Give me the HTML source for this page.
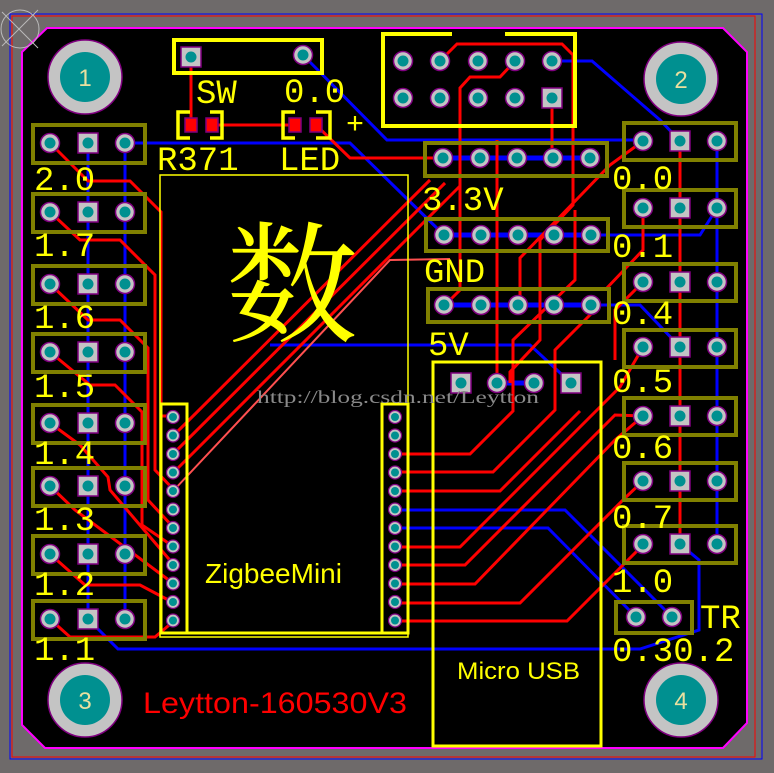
<!DOCTYPE html>
<html><head><meta charset="utf-8"><style>
html,body{margin:0;padding:0;background:#6e6a6a;}
svg{display:block;}
.m{font-family:"Liberation Mono",monospace;fill:#ffff00;font-size:34px;}
.s{font-family:"Liberation Sans",sans-serif;}
</style></head><body>
<svg width="774" height="773" viewBox="0 0 774 773" xmlns="http://www.w3.org/2000/svg">
<defs>
<g id="p"><circle r="9.5" fill="#c4c4c4" stroke="#800080" stroke-width="1.5"/><circle r="5.5" fill="#009090"/></g>
<g id="q"><rect x="-10" y="-10" width="20" height="20" fill="#c4c4c4" stroke="#800080" stroke-width="1.5"/><circle r="5.5" fill="#009090"/></g>
<g id="sp"><circle r="6.5" fill="#c4c4c4" stroke="#800080" stroke-width="1.2"/><circle r="4" fill="#009090"/></g>
<g id="h"><circle r="37" fill="#c4c4c4" stroke="#800080" stroke-width="1.5"/><circle r="25" fill="#009090"/></g>
</defs>
<rect width="774" height="773" fill="#6e6a6a"/>
<rect x="10" y="14" width="752" height="745" fill="none" stroke="#0000ff" stroke-width="1"/>
<rect x="12" y="16" width="743" height="741" fill="none" stroke="#ff0000" stroke-width="1"/>
<polygon points="47,28 723,28 747,52 747,723 723,748 45,748 22,725 22,52" fill="#000" stroke="#ff00ff" stroke-width="2"/>
<circle cx="20" cy="29" r="19" fill="none" stroke="#bbb" stroke-width="1"/>
<line x1="2" y1="12" x2="38" y2="48" stroke="#bbb"/><line x1="38" y1="10" x2="2" y2="46" stroke="#bbb"/>

<use href="#h" x="85" y="77"/><use href="#h" x="681" y="79"/><use href="#h" x="85" y="700"/><use href="#h" x="681" y="700"/>
<g class="s" fill="#e8e0a0" font-size="24" text-anchor="middle">
<text x="85" y="86">1</text><text x="681" y="88">2</text><text x="85" y="709">3</text><text x="681" y="709">4</text></g>

<g stroke="#0000ff" stroke-width="3" fill="none">
<line x1="88" y1="143" x2="88" y2="619"/>
<line x1="125" y1="143" x2="125" y2="619"/>
<polyline points="125,143 350,143 444,235"/>
<polyline points="303,55 387,140 643,140"/>
<polyline points="551,61 592,61 660,120 680,141"/>
<polyline points="717,141 717,544"/>
<polyline points="717,208 700,235 591,235"/>
<polyline points="591,305 640,305 680,347"/>
<polyline points="270,345 530,345 571,383"/>
<polyline points="88,619 118,649 640,649 699,630 699,560 680,544"/>
<polyline points="395,510 565,510 672,617"/>
<polyline points="395,528 548,528 636,617"/>
<line x1="443" y1="158" x2="590" y2="158" stroke-width="5"/>
<line x1="444" y1="235" x2="591" y2="235" stroke-width="5"/>
<line x1="444" y1="305" x2="591" y2="305" stroke-width="5"/>
<line x1="497" y1="383" x2="534" y2="383" stroke-width="5"/>
<line x1="160" y1="416" x2="174" y2="416"/>
</g>

<g stroke="#ff0000" stroke-width="3" fill="none">
<line x1="191" y1="57" x2="191" y2="125"/>
<line x1="212" y1="125" x2="295" y2="125"/>
<polyline points="316,125 350,158 443,158"/>
<polyline points="440,61 457,44 562,44 573,55 573,205 540,240 540,340 510,372 510,383"/>
<polyline points="515,61 500,77 470,77 460,88 460,290 450,300"/>
<line x1="552" y1="98" x2="552" y2="158"/>
<polyline points="497,383 497,140"/>
<line x1="680" y1="141" x2="680" y2="544"/>
<polyline points="50,143 88,181 130,181 161,212 161,416 174,416"/>
<polyline points="50,212 80,240 120,240 155,275 155,470 174,490"/>
<polyline points="50,284 88,320 120,320 148,348 148,500 174,528"/>
<polyline points="50,352 90,385 115,385 142,412 142,525 174,547"/>
<polyline points="50,423 80,445 108,477 110,490 174,565"/>
<polyline points="50,486 75,510 174,584"/>
<polyline points="50,554 85,585 140,585 174,603"/>
<polyline points="50,619 70,637 155,637 174,621"/>
<line x1="174" y1="435" x2="430" y2="180"/>
<line x1="174" y1="453" x2="445" y2="183"/>
<line x1="174" y1="472" x2="460" y2="186"/>
<polyline points="174,490 390,260 450,259" stroke="#ff5050" stroke-width="2"/>
<polyline points="395,454 470,454 513,411 513,340 575,280 575,210"/>
<polyline points="395,472 493,472 555,410 555,350 600,305"/>
<polyline points="395,491 500,491 580,411"/>
<polyline points="395,547 460,547 620,387 643,347"/>
<polyline points="395,565 465,565 615,415 643,416"/>
<polyline points="395,584 475,584 615,440 643,416"/>
<polyline points="395,603 520,603 625,498 643,481"/>
<polyline points="395,621 567,621 643,545"/>
<polyline points="643,141 610,165 520,258 520,300"/>
<polyline points="643,208 643,250 605,290"/>
<polyline points="643,282 615,310 615,360"/>
</g>

<g fill="none" stroke="#808000" stroke-width="4">
<rect x="33" y="125" width="112" height="38"/><rect x="33" y="194" width="112" height="38"/>
<rect x="33" y="266" width="112" height="38"/><rect x="33" y="334" width="112" height="38"/>
<rect x="33" y="405" width="112" height="38"/><rect x="33" y="468" width="112" height="38"/>
<rect x="33" y="536" width="112" height="38"/><rect x="33" y="601" width="112" height="38"/>
<rect x="624" y="123" width="112" height="37"/><rect x="624" y="190" width="112" height="37"/>
<rect x="624" y="264" width="112" height="37"/><rect x="624" y="330" width="112" height="37"/>
<rect x="624" y="398" width="112" height="37"/><rect x="624" y="463" width="112" height="37"/>
<rect x="624" y="526" width="112" height="37"/>
<rect x="616" y="602" width="76" height="31"/>
<rect x="425" y="143" width="182" height="33"/>
<rect x="426" y="219" width="182" height="32"/>
<rect x="428" y="289" width="181" height="33"/>
</g>

<g fill="none" stroke="#ffff00">
<rect x="174" y="40" width="148" height="33" stroke-width="4"/>
<polyline points="452,34 383,34 383,126 575,126 575,34 505,34" stroke-width="4"/>
<rect x="160" y="175" width="248" height="462" stroke-width="1.5"/>
<rect x="161" y="404" width="26" height="229" stroke-width="3"/>
<rect x="382" y="404" width="26" height="229" stroke-width="3"/>
<line x1="161" y1="633" x2="408" y2="633" stroke-width="3"/>
<rect x="433" y="362" width="168" height="384" stroke-width="3"/>
<path d="M190,112 H178 V138 H190 M210,112 H222 V138 H210" stroke-width="3.5"/>
<path d="M295,112 H283 V138 H295 M316,112 H330 V138 H316" stroke-width="3.5"/>
</g>
<rect x="185" y="118" width="12" height="14" fill="#ff0000" stroke="#800080" stroke-width="1.5"/>
<rect x="206" y="118" width="12" height="14" fill="#ff0000" stroke="#800080" stroke-width="1.5"/>
<rect x="289" y="118" width="12" height="14" fill="#ff0000" stroke="#800080" stroke-width="1.5"/>
<rect x="310" y="118" width="12" height="14" fill="#ff0000" stroke="#800080" stroke-width="1.5"/>

<use href="#q" x="191" y="57"/><use href="#p" x="303" y="55"/>
<g>
<use href="#p" x="403" y="61"/><use href="#p" x="440" y="61"/><use href="#p" x="478" y="61"/><use href="#p" x="515" y="61"/><use href="#p" x="552" y="61"/>
<use href="#p" x="403" y="98"/><use href="#p" x="440" y="98"/><use href="#p" x="478" y="98"/><use href="#p" x="515" y="98"/><use href="#q" x="552" y="98"/>
</g>
<g>
<use href="#p" x="443" y="158"/><use href="#p" x="480" y="158"/><use href="#p" x="517" y="158"/><use href="#p" x="553" y="158"/><use href="#p" x="590" y="158"/>
<use href="#p" x="444" y="235"/><use href="#p" x="481" y="235"/><use href="#p" x="518" y="235"/><use href="#p" x="554" y="235"/><use href="#p" x="591" y="235"/>
<use href="#p" x="444" y="305"/><use href="#p" x="481" y="305"/><use href="#p" x="518" y="305"/><use href="#p" x="554" y="305"/><use href="#p" x="591" y="305"/>
</g>
<use href="#q" x="461" y="383"/><use href="#p" x="497" y="383"/><use href="#p" x="534" y="383"/><use href="#q" x="571" y="383"/>
<g>
<use href="#p" x="50" y="143"/><use href="#q" x="88" y="143"/><use href="#p" x="125" y="143"/>
<use href="#p" x="50" y="212"/><use href="#q" x="88" y="212"/><use href="#p" x="125" y="212"/>
<use href="#p" x="50" y="284"/><use href="#q" x="88" y="284"/><use href="#p" x="125" y="284"/>
<use href="#p" x="50" y="352"/><use href="#q" x="88" y="352"/><use href="#p" x="125" y="352"/>
<use href="#p" x="50" y="423"/><use href="#q" x="88" y="423"/><use href="#p" x="125" y="423"/>
<use href="#p" x="50" y="486"/><use href="#q" x="88" y="486"/><use href="#p" x="125" y="486"/>
<use href="#p" x="50" y="554"/><use href="#q" x="88" y="554"/><use href="#p" x="125" y="554"/>
<use href="#p" x="50" y="619"/><use href="#q" x="88" y="619"/><use href="#p" x="125" y="619"/>
</g>
<g>
<use href="#p" x="643" y="141"/><use href="#q" x="680" y="141"/><use href="#p" x="717" y="141"/>
<use href="#p" x="643" y="208"/><use href="#q" x="680" y="208"/><use href="#p" x="717" y="208"/>
<use href="#p" x="643" y="282"/><use href="#q" x="680" y="282"/><use href="#p" x="717" y="282"/>
<use href="#p" x="643" y="347"/><use href="#q" x="680" y="347"/><use href="#p" x="717" y="347"/>
<use href="#p" x="643" y="416"/><use href="#q" x="680" y="416"/><use href="#p" x="717" y="416"/>
<use href="#p" x="643" y="481"/><use href="#q" x="680" y="481"/><use href="#p" x="717" y="481"/>
<use href="#p" x="643" y="544"/><use href="#q" x="680" y="544"/><use href="#p" x="717" y="544"/>
<use href="#p" x="636" y="617"/><use href="#p" x="672" y="617"/>
</g>
<g>
<use href="#sp" x="173" y="417"/><use href="#sp" x="173" y="435.5"/><use href="#sp" x="173" y="454"/><use href="#sp" x="173" y="472.5"/>
<use href="#sp" x="173" y="491"/><use href="#sp" x="173" y="509.5"/><use href="#sp" x="173" y="528"/><use href="#sp" x="173" y="546.5"/>
<use href="#sp" x="173" y="565"/><use href="#sp" x="173" y="583.5"/><use href="#sp" x="173" y="602"/><use href="#sp" x="173" y="620.5"/>
<use href="#sp" x="395" y="417"/><use href="#sp" x="395" y="435.5"/><use href="#sp" x="395" y="454"/><use href="#sp" x="395" y="472.5"/>
<use href="#sp" x="395" y="491"/><use href="#sp" x="395" y="509.5"/><use href="#sp" x="395" y="528"/><use href="#sp" x="395" y="546.5"/>
<use href="#sp" x="395" y="565"/><use href="#sp" x="395" y="583.5"/><use href="#sp" x="395" y="602"/><use href="#sp" x="395" y="620.5"/>
</g>

<g class="m">
<text x="196" y="103">SW</text><text x="284" y="102">0.0</text>
<text x="346" y="133" font-size="30">+</text>
<text x="157" y="170">R371</text><text x="279" y="170">LED</text>
<text x="34" y="190">2.0</text><text x="34" y="256">1.7</text><text x="34" y="328">1.6</text><text x="34" y="397">1.5</text>
<text x="34" y="464">1.4</text><text x="34" y="530">1.3</text><text x="34" y="595">1.2</text><text x="34" y="660">1.1</text>
<text x="612" y="189">0.0</text><text x="612" y="257">0.1</text><text x="612" y="324">0.4</text><text x="612" y="392">0.5</text>
<text x="612" y="458">0.6</text><text x="612" y="528">0.7</text><text x="612" y="592">1.0</text>
<text x="700" y="628">TR</text><text x="612" y="661">0.30.2</text>
<text x="422" y="210">3.3V</text><text x="424" y="282">GND</text><text x="428" y="355">5V</text>
</g>
<text x="292" y="332" font-family="'Noto Serif CJK SC','Noto Sans CJK SC',serif" font-size="132" fill="#ffff00" text-anchor="middle">数</text>
<text x="257" y="403" font-family="'Liberation Serif',serif" font-size="18" fill="#8a8a8a" textLength="282" lengthAdjust="spacingAndGlyphs">http://blog.csdn.net/Leytton</text>
<text x="205" y="583" class="s" font-size="28" fill="#ffff00">ZigbeeMini</text>
<text x="457" y="679" class="s" font-size="24" fill="#ffff00" textLength="123" lengthAdjust="spacingAndGlyphs">Micro USB</text>
<text x="143" y="713" class="s" font-size="30" fill="#ff0000" textLength="264" lengthAdjust="spacingAndGlyphs">Leytton-160530V3</text>
</svg>
</body></html>
